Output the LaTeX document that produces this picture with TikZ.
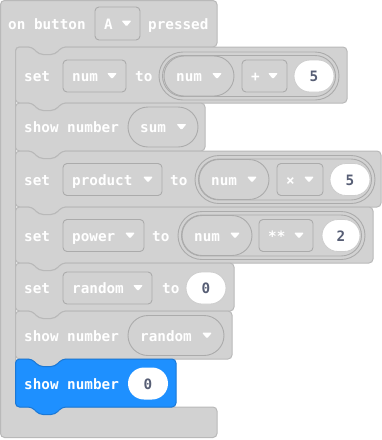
\documentclass[tikz,border=0pt]{standalone}
\usepackage{fontspec}
\setmonofont{DejaVu Sans Mono}

\definecolor{blockgray}{HTML}{D2D2D2}
\definecolor{edgegray}{HTML}{B9B9B9}
\definecolor{fieldedge}{HTML}{ABABAB}
\definecolor{showblue}{HTML}{1E90FF}
\definecolor{showedge}{HTML}{1A78D6}
\definecolor{slate}{HTML}{575E75}

\begin{document}
\begin{tikzpicture}[x=1pt,y=-1pt,
  blk/.style={fill=blockgray, draw=edgegray, line width=1pt, rounded corners=4pt},
  field/.style={fill=blockgray, draw=fieldedge, line width=0.9pt, rounded corners=4pt},
  numslot/.style={fill=white, draw=fieldedge!60, line width=0.8pt, rounded corners=16pt},
  lbl/.style={anchor=base west, inner sep=0pt, text=white,
    font=\ttfamily\bfseries\fontsize{14.3}{17}\selectfont},
  digit/.style={anchor=base, inner sep=0pt, text=slate,
    font=\ttfamily\bfseries\fontsize{14.3}{17}\selectfont},
  caret/.pic={\fill[white, rounded corners=1pt] (-5,-3) -- (5,-3) -- (0,3) -- cycle;}
]
\useasboundingbox (0,0) rectangle (382,440);

% HAT BLOCK (C shape round the stack)
\draw[blk] (0.5,0.5) -- (217,0.5) -- (217,47) -- (62,47) -- (55,54.5) -- (39,54.5)
  -- (32,47) -- (15.5,47) -- (15.5,407) -- (217,407) -- (217,437.5) -- (0.5,437.5) -- cycle;
\node[lbl] (onbtn) at (8,29.3) {on button};
\draw[field] (95,7) rectangle (140,40);
\node[lbl] (btn) at (104,29.3) {A};
\pic at (126.5,23.5) {caret};
\node[lbl] (pressed) at (148,29.3) {pressed};

% STACKED BLOCKS: top / bottom / right edge
\foreach \ya/\yb/\xr in {47/103/347, 103/151/205, 151/207/381, 207/263/373, 263/311/234, 311/359/232}
  \draw[blk] (15.5,\ya) -- (32,\ya) -- (39,\ya+7.5) -- (55,\ya+7.5) -- (62,\ya) -- (\xr,\ya)
    -- (\xr,\yb) -- (62,\yb) -- (55,\yb+7.5) -- (39,\yb+7.5) -- (32,\yb) -- (15.5,\yb) -- cycle;
\draw[blk, fill=showblue, draw=showedge] (15.5,359) -- (32,359) -- (39,366.5) -- (55,366.5)
  -- (62,359) -- (176,359) -- (176,407) -- (62,407) -- (55,414.5) -- (39,414.5) -- (32,407)
  -- (15.5,407) -- cycle;

% set num to num + 5
\node[lbl] (set1) at (24,81.8) {set};
\draw[field] (63,60) rectangle (126,92);
\node[lbl] (var1) at (72,81.8) {num};
\pic at (112,76) {caret};
\node[lbl] (to1) at (135,81.8) {to};
\draw[field, rounded corners=24pt] (159,52) rectangle (339,100);
\draw[field, rounded corners=20.5pt] (162.5,55.5) rectangle (335.5,96.5);
\draw[field, rounded corners=20pt] (164,56) rectangle (234,96);
\node[lbl] (arg1) at (176,81.8) {num};
\pic at (217,76) {caret};
\draw[field] (242,60) rectangle (287,92);
\node[lbl] (op1) at (251,81.8) {+};
\pic at (273,76) {caret};
\draw[numslot] (294,60) rectangle (334,92);
\node[digit] (val1) at (314,81.8) {5};

% show number sum
\node[lbl] (show2) at (24,132.8) {show number};
\draw[field, rounded corners=20pt] (128,107) rectangle (198,147);
\node[lbl] (arg2) at (140,132.8) {sum};
\pic at (181.5,127) {caret};

% set product to num x 5
\node[lbl] (set3) at (24,185.3) {set};
\draw[field] (63,163.5) rectangle (162,195.5);
\node[lbl] (var3) at (72,185.3) {product};
\pic at (148,179.5) {caret};
\node[lbl] (to3) at (170,185.3) {to};
\draw[field, rounded corners=24pt] (195,155.5) rectangle (375,203.5);
\draw[field, rounded corners=20.5pt] (198.5,159) rectangle (371.5,200);
\draw[field, rounded corners=20pt] (199,159.5) rectangle (269,199.5);
\node[lbl] (arg3) at (211,185.3) {num};
\pic at (252,179.5) {caret};
\draw[field] (277,163.5) rectangle (323,195.5);
\node[lbl] (op3) at (286,185.3) {×};
\pic at (309,179.5) {caret};
\draw[numslot] (330,163.5) rectangle (370,195.5);
\node[digit] (val3) at (350,185.3) {5};

% set power to num ** 2
\node[lbl] (set4) at (24,241.3) {set};
\draw[field] (63,219.5) rectangle (144,251.5);
\node[lbl] (var4) at (72,241.3) {power};
\pic at (130,235.5) {caret};
\node[lbl] (to4) at (152,241.3) {to};
\draw[field, rounded corners=24pt] (178,211.5) rectangle (365,259.5);
\draw[field, rounded corners=20.5pt] (181.5,215) rectangle (361.5,256);
\draw[field, rounded corners=20pt] (182,215.5) rectangle (252,255.5);
\node[lbl] (arg4) at (194,241.3) {num};
\pic at (235,235.5) {caret};
\draw[field] (259,219.5) rectangle (313,251.5);
\node[lbl] (op4) at (268,241.3) {**};
\pic at (299,235.5) {caret};
\draw[numslot] (322,219.5) rectangle (360,251.5);
\node[digit] (val4) at (341,241.3) {2};

% set random to 0
\node[lbl] (set5) at (24,293.8) {set};
\draw[field] (63,272) rectangle (152,304);
\node[lbl] (var5) at (72,293.8) {random};
\pic at (138,288) {caret};
\node[lbl] (to5) at (162,293.8) {to};
\draw[numslot] (186,272) rectangle (226,304);
\node[digit] (val5) at (206,293.8) {0};

% show number random
\node[lbl] (show6) at (24,341.3) {show number};
\draw[field, rounded corners=20pt] (128,315.5) rectangle (224,355.5);
\node[lbl] (arg6) at (140,341.3) {random};
\pic at (207,335.5) {caret};

% show number 0 (selected)
\node[lbl] (show7) at (24,389.3) {show number};
\draw[numslot, draw=none] (128,367.5) rectangle (168,399.5);
\node[digit] (val7) at (148,389.3) {0};

\end{tikzpicture}
\end{document}
